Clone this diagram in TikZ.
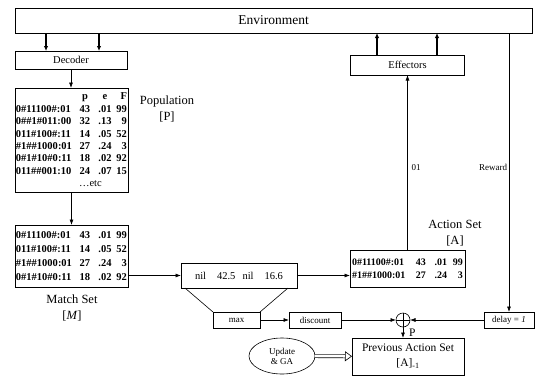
\documentclass[tikz,border=0pt]{standalone}
\usepackage{fontspec}
\setmainfont{Liberation Serif}
\usetikzlibrary{arrows.meta}
\usetikzlibrary{shapes}

% one classifier: condition:action, p, e, F
\newcommand\clrow[4]{\makebox[60pt][l]{#1}\makebox[18pt]{#2}\makebox[22pt]{#3}\makebox[11pt][r]{#4}}

\begin{document}
\begin{tikzpicture}[x=1pt,y=-1pt,>={Latex[length=5.5pt,width=4pt]},line width=0.6pt,
  every node/.style={inner sep=0pt,outer sep=0pt},
  box/.style={draw,rectangle},
  tbl/.style={align=left,font=\bfseries\fontsize{10.5}{12.4}\selectfont},
  lbl/.style={align=center,font=\fontsize{12.5}{16}\selectfont},
  small/.style={font=\fontsize{9}{10}\selectfont},
  tiny/.style={font=\fontsize{9}{10}\selectfont},
  heavy/.style={line width=1.8pt,-{Latex[length=5pt,width=4.5pt]}},
  hollow/.style={double,double distance=2.5pt,-{Triangle[open,length=7pt,width=10pt]}}]

  \useasboundingbox (0,0) rectangle (535,378);

  \node[box,minimum width=517,minimum height=25,font=\fontsize{13.5}{15}\selectfont] (env) at (273.5,20.5) {Environment};
  \node[box,minimum width=112,minimum height=18,font=\fontsize{10.5}{12}\selectfont] (dec) at (71,60) {Decoder};
  \node[box,minimum width=114,minimum height=20,font=\fontsize{10.5}{12}\selectfont] (eff) at (407.5,65) {Effectors};

  % population, match set and action set
  \node[box,tbl,minimum width=113,minimum height=104] (pop) at (71.5,140) {%
    \clrow{}{p}{e}{F}\\
    \clrow{0\#11100\#:01}{43}{.01}{99}\\
    \clrow{0\#\#1\#011:00}{32}{.13}{9}\\
    \clrow{011\#100\#:11}{14}{.05}{52}\\
    \clrow{\#1\#\#1000:01}{27}{.24}{3}\\
    \clrow{0\#1\#10\#0:11}{18}{.02}{92}\\
    \clrow{011\#\#001:10}{24}{.07}{15}\\
    \hspace{63pt}\mdseries\dots etc};
  \node[lbl] (poplbl) at (167,109) {Population\\{}[P]};

  \node[box,tbl,font=\bfseries\fontsize{10.5}{14}\selectfont,minimum width=113,minimum height=62] (match) at (71.5,256) {%
    \clrow{0\#11100\#:01}{43}{.01}{99}\\
    \clrow{011\#100\#:11}{14}{.05}{52}\\
    \clrow{\#1\#\#1000:01}{27}{.24}{3}\\
    \clrow{0\#1\#10\#0:11}{18}{.02}{92}};
  \node[lbl] (matchlbl) at (72,308) {Match Set\\{}[\textit{M}]};

  \node[box,minimum width=116,minimum height=25,font=\fontsize{10.5}{12}\selectfont] (mid) at (239,275.5) {nil\hspace{11pt}42.5\hspace{7pt}nil\hspace{11pt}16.6};

  \node[box,tbl,font=\bfseries\fontsize{10}{13}\selectfont,minimum width=115,minimum height=37] (act) at (407.5,268.5) {%
    \clrow{0\#11100\#:01}{43}{.01}{99}\\
    \clrow{\#1\#\#1000:01}{27}{.24}{3}};
  \node[lbl] (actlbl) at (455,233) {Action Set\\{}[A]};

  % discount row
  \node[box,minimum width=47,minimum height=16,small] (max) at (236.5,320) {max};
  \node[box,minimum width=52,minimum height=16,small] (disc) at (315,320) {discount};
  \node[box,minimum width=50,minimum height=16,small] (delay) at (509,320) {delay = \textit{1}};
  \node[draw,circle,minimum size=14] (sum) at (403,320) {};
  \draw (sum.north) -- (sum.south) (sum.west) -- (sum.east);

  \node[box,minimum width=112,minimum height=37,align=center,font=\fontsize{11.5}{15}\selectfont] (prev) at (408,356.5) {Previous Action Set\\{}[A]\textsubscript{-1}};
  \node[draw,ellipse,minimum width=66,minimum height=36,align=center,tiny] (upd) at (282,356) {Update\\\& GA};

  % connectors
  \foreach \x in {46,99}
    \draw[heavy] (env.south -| \x,0) -- (dec.north -| \x,0);
  \foreach \x in {377,437}
    \draw[heavy] (eff.north -| \x,0) -- (env.south -| \x,0);
  \draw[->] (dec.south) -- (dec.south |- pop.north);
  \draw[->] (pop.south) -- (pop.south |- match.north);
  \draw[->] (match.east |- mid.west) -- (mid.west);
  \draw[->] (mid.east) -- (mid.east -| act.west);
  \draw ([xshift=4pt]mid.south west) -- (max.north west);
  \draw ([xshift=-9pt]mid.south east) -- (max.north east);
  \draw[->] (act.north) -- (eff.south) node[pos=.47,right=4pt,tiny] {01};
  \draw[->] (env.south -| delay.north) -- (delay.north) node[pos=.48,left=2pt,tiny] {Reward};
  \draw[->] (max) -- (disc);
  \draw[->] (disc) -- (sum);
  \draw[->] (delay) -- (sum);
  \draw[->] (sum) -- (sum |- prev.north) node[pos=.5,right=6pt,font=\fontsize{11.5}{12}\selectfont] {P};
  \draw[hollow] (upd) -- (prev);

\end{tikzpicture}
\end{document}
